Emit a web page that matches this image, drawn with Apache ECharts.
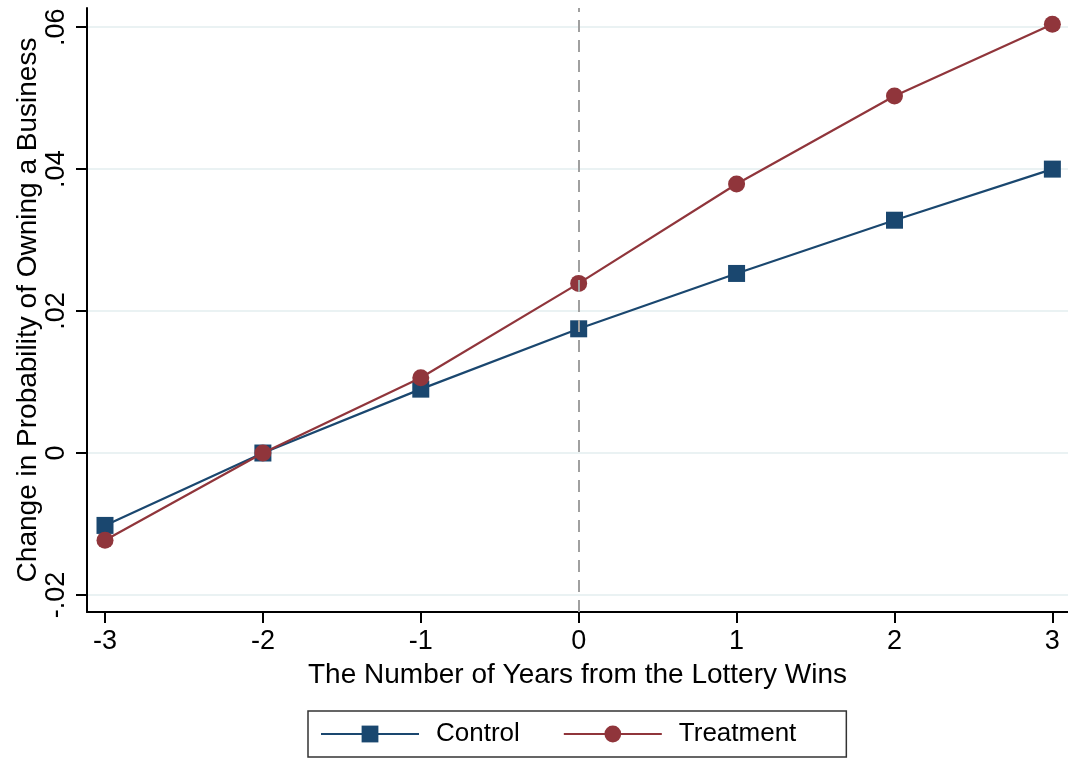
<!DOCTYPE html>
<html lang="en">
<head>
  <meta charset="UTF-8" />
  <title>Lottery wins and business ownership</title>
  <script src="https://cdn.jsdelivr.net/npm/echarts@6/dist/echarts.min.js"></script>
  <style>
    html, body { margin: 0; padding: 0; background: #fff; }
  </style>
</head>
<body>
  <div id="main" style="width: 1068px; height: 758px;"></div>
  <script type="text/javascript">
    // data
    let years = [-3, -2, -1, 0, 1, 2, 3];
    let controlValues = [-0.0102, 0, 0.0090, 0.0175, 0.0253, 0.0328, 0.0400];
    let treatmentValues = [-0.0123, 0, 0.0106, 0.0239, 0.0379, 0.0503, 0.0604];
    let yTicks = [-0.02, 0, 0.02, 0.04, 0.06];
    let xTicks = [-3, -2, -1, 0, 1, 2, 3];

    // colours
    let controlColor = "#1a476f";
    let treatmentColor = "#90353b";
    let gridColor = "#eaf2f3";
    let axisColor = "#000";

    let font = "Helvetica, Arial, 'Liberation Sans', sans-serif";

    // Stata style: .06 instead of 0.06
    function fmtY(v) {
      if (Math.abs(v) < 1e-9) return "0";
      let s = (Math.round(v * 100) / 100).toFixed(2);
      return s.replace("0.", ".");
    }

    var myChart = echarts.init(document.getElementById('main'));
    myChart.setOption({
      animation: false,
      grid: { left: 87, right: 0, top: 8, bottom: 146, outerBoundsMode: 'none' },
      xAxis: {
        type: 'value',
        min: -3.114,
        max: 3.099,
        name: 'The Number of Years from the Lottery Wins',
        nameLocation: 'middle',
        nameGap: 49,
        nameMoveOverlap: false,
        nameTextStyle: { fontSize: 28, color: '#000', fontFamily: font },
        axisLine: { show: true, onZero: false, lineStyle: { color: axisColor, width: 2 } },
        axisTick: { show: true, length: 11, customValues: xTicks, lineStyle: { color: axisColor, width: 2 } },
        axisLabel: { customValues: xTicks, fontSize: 27, color: '#000', margin: 16, fontFamily: font },
        splitLine: { show: false }
      },
      yAxis: {
        type: 'value',
        min: -0.0224,
        max: 0.0627,
        name: 'Change in Probability of Owning a Business',
        nameLocation: 'middle',
        nameGap: 45,
        nameMoveOverlap: false,
        nameTextStyle: { fontSize: 28, color: '#000', fontFamily: font },
        axisLine: { show: true, onZero: false, lineStyle: { color: axisColor, width: 2 } },
        axisTick: { show: true, length: 11, customValues: yTicks, lineStyle: { color: axisColor, width: 2 } },
        axisLabel: {
          customValues: yTicks,
          rotate: 90,
          fontSize: 27,
          color: '#000',
          margin: 17,
          fontFamily: font,
          formatter: fmtY
        },
        splitLine: { show: true, lineStyle: { color: gridColor, width: 2 } }
      },
      legend: {
        bottom: 1,
        left: 308,
        orient: 'horizontal',
        borderColor: '#333',
        borderWidth: 1.5,
        borderRadius: 0,
        padding: [10, 50, 10, 12],
        itemWidth: 98,
        itemHeight: 21,
        itemGap: 43,
        textStyle: { fontSize: 26, color: '#000', fontFamily: font, padding: [0, 0, 0, 12] },
        data: ['Control', 'Treatment']
      },
      series: [
        {
          name: 'Control',
          type: 'line',
          data: years.map((x, i) => [x, controlValues[i]]),
          symbol: 'rect',
          symbolSize: 17,
          lineStyle: { color: controlColor, width: 2.2 },
          itemStyle: { color: controlColor },
          z: 3,
          markLine: {
            silent: true,
            symbol: 'none',
            label: { show: false },
            lineStyle: { color: '#a0a0a0', type: [12, 8], width: 2 },
            data: [{ xAxis: 0 }]
          }
        },
        {
          name: 'Treatment',
          type: 'line',
          data: years.map((x, i) => [x, treatmentValues[i]]),
          symbol: 'circle',
          symbolSize: 17,
          lineStyle: { color: treatmentColor, width: 2.2 },
          itemStyle: { color: treatmentColor },
          z: 4
        }
      ]
    });
  </script>
</body>
</html>
